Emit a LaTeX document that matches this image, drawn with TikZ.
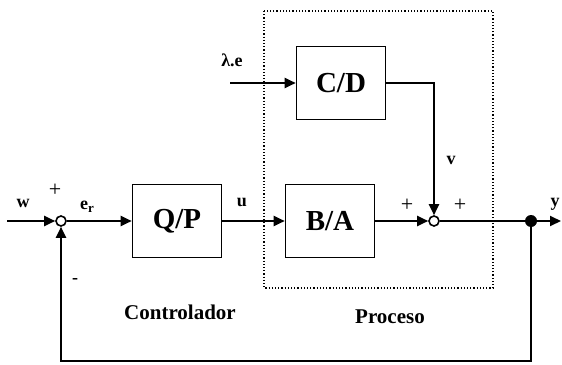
\documentclass[tikz,border=0pt]{standalone}
\usepackage{fontspec}
\setmainfont{Liberation Serif}
\usetikzlibrary{arrows.meta}
\tikzset{
  blk/.style={draw, line width=1.6pt, minimum width=89pt, minimum height=73pt, font=\fontsize{29}{32}\selectfont\bfseries},
  sumnode/.style={draw, circle, line width=1.6pt, inner sep=0pt, minimum size=10pt},
  lbl/.style={font=\fontsize{18}{20}\selectfont\bfseries},
  big/.style={font=\fontsize{21}{24}\selectfont\bfseries},
  sgn/.style={font=\fontsize{22}{24}\selectfont},
  sig/.style={line width=2pt, -{Triangle[length=11pt,width=10pt]}}
}
\begin{document}
\begin{tikzpicture}[x=1pt,y=-1pt]
\useasboundingbox (0,0) rectangle (562,364);
% proceso
\draw[dotted, line width=1.2pt] (264,11) rectangle (493,288);
\node[blk] (qp) at (177,221) {Q/P};
\node[blk] (ba) at (330,221) {B/A};
\node[blk] (cd) at (341,83) {C/D};
\node[sumnode] (s1) at (61,221) {};
\node[sumnode] (s2) at (434,221) {};
\node[circle, fill, inner sep=0pt, minimum size=12pt] (dot) at (531,221) {};
\coordinate (win) at (7,221);
\coordinate (lin) at (230,83);
\coordinate (yout) at (561,221);
% senales
\draw[sig] (win) -- (s1);
\draw[sig] (s1) -- (qp);
\draw[sig] (qp) -- (ba);
\draw[sig] (lin) -- (cd);
\draw[sig] (cd.east) -| (s2);
\draw[sig] (ba) -- (s2);
\draw[line width=2pt] (s2) -- (dot);
\draw[sig] (dot) -- (yout);
\draw[sig] (dot) -- ++(0,140) -| (s1);
% etiquetas
\node[lbl] (lw) at (23,203) {w};
\node[sgn] (p1) at (55,190) {+};
\node[lbl] (ler) at (87,207) {e\raisebox{-3pt}{\fontsize{13}{13}\selectfont r}};
\node[lbl] (m1) at (75,281) {-};
\node[lbl] (lu) at (242,202) {u};
\node[lbl] (lv) at (451,160) {v};
\node[sgn] (p2) at (407,205) {+};
\node[sgn] (p3) at (460,205) {+};
\node[lbl] (ly) at (555,204) {y};
\node[lbl] (lle) at (232,60) {λ.e};
\node[big] (lc) at (180,312) {Controlador};
\node[big] (lp) at (390,317) {Proceso};
\end{tikzpicture}
\end{document}
